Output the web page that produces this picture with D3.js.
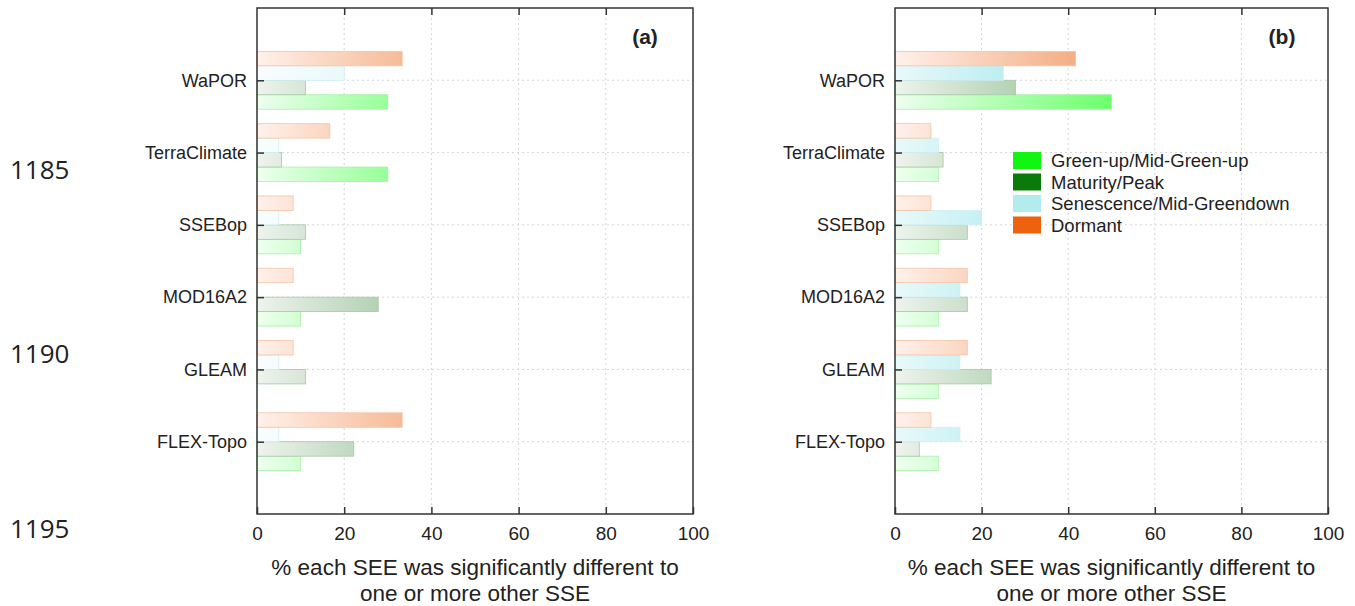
<!DOCTYPE html>
<html>
<head>
<meta charset="utf-8">
<script src="https://cdn.jsdelivr.net/npm/d3@7"></script>
<style>
  html, body { margin: 0; padding: 0; background: #fff; }
  svg { display: block; }
  text { font-family: "Liberation Sans", Arial, sans-serif; fill: #222; }
</style>
</head>
<body>
<svg id="chart" width="1355" height="606"></svg>
<script>
// ---------- data ----------
const categories = ["WaPOR", "TerraClimate", "SSEBop", "MOD16A2", "GLEAM", "FLEX-Topo"];
const seriesNames = ["Green-up/Mid-Green-up", "Maturity/Peak", "Senescence/Mid-Greendown", "Dormant"];
const xTicks = [0, 20, 40, 60, 80, 100];
const xTitle = ["% each SEE was significantly different to", "one or more other SSE"];
const panelLabels = ["(a)", "(b)"];
const lineNumbers = ["1185", "1190", "1195"];

// panel (a)
const aGreenUp    = [30, 30, 10, 10, 0, 10];
const aMaturity   = [11.1, 5.6, 11.1, 27.8, 11.1, 22.2];
const aSenescence = [20, 5, 5, 0, 5, 5];
const aDormant    = [33.3, 16.7, 8.3, 8.3, 8.3, 33.3];
// panel (b)
const bGreenUp    = [50, 10, 10, 10, 10, 10];
const bMaturity   = [27.8, 11.1, 16.7, 16.7, 22.2, 5.6];
const bSenescence = [25, 10, 20, 15, 15, 15];
const bDormant    = [41.7, 8.3, 8.3, 16.7, 16.7, 8.3];

// ---------- styling ----------
const legendColors = ["#11f511", "#0a7a0a", "#b2ecee", "#ee620e"];
const gradA = [["#effff0", "#5cff5c"], ["#eef3ee", "#86b886"], ["#f8fdfe", "#d6f2f5"], ["#fff1ea", "#f1a070"]];
const gradB = [["#effff0", "#6cff6c"], ["#eef3ee", "#86b886"], ["#e9f9fa", "#8fe3ea"], ["#fff1ea", "#f1a070"]];
const strokeCols = ["#a8f0a8", "#a6c8a6", "#cdeff2", "#f4c4a6"];

const svg = d3.select("#chart");
const defs = svg.append("defs");

const plotTop = 8, plotBottom = 514;
const panels = [
  { x0: 257, x1: 693, data: [aGreenUp, aMaturity, aSenescence, aDormant], grad: gradA, label: panelLabels[0], lx: 645, legend: false },
  { x0: 895, x1: 1328, data: [bGreenUp, bMaturity, bSenescence, bDormant], grad: gradB, label: panelLabels[1], lx: 1282, legend: true }
];

const y = d3.scaleLinear().domain([0, 7]).range([plotBottom, plotTop]);
const catPos = categories.map((c, i) => categories.length - i);
const barH = y(0) - y(0.2);

panels.forEach((p, pi) => {
  const x = d3.scaleLinear().domain([0, 100]).range([p.x0, p.x1]);
  const g = svg.append("g");

  p.grad.forEach((gc, si) => {
    const lg = defs.append("linearGradient")
      .attr("id", `g${pi}_${si}`)
      .attr("gradientUnits", "userSpaceOnUse")
      .attr("x1", x(0)).attr("x2", x(50)).attr("y1", 0).attr("y2", 0);
    lg.append("stop").attr("offset", 0).attr("stop-color", gc[0]);
    lg.append("stop").attr("offset", 1).attr("stop-color", gc[1]);
  });

  g.append("g").selectAll("line").data(xTicks.filter(t => t > 0 && t < 100)).join("line")
    .attr("x1", d => x(d)).attr("x2", d => x(d)).attr("y1", plotTop).attr("y2", plotBottom)
    .attr("stroke", "#d6d6d6").attr("stroke-width", 1).attr("stroke-dasharray", "2,3");
  g.append("g").selectAll("line").data(catPos).join("line")
    .attr("x1", x(0)).attr("x2", x(100)).attr("y1", d => y(d)).attr("y2", d => y(d))
    .attr("stroke", "#d6d6d6").attr("stroke-width", 1).attr("stroke-dasharray", "2,3");

  p.data.forEach((vals, si) => {
    const k = 3 - si;
    g.append("g").selectAll("rect").data(vals.map((v, i) => ({ v, pos: catPos[i] }))).join("rect")
      .attr("x", x(0))
      .attr("y", d => y(d.pos + 0.4 - k * 0.2))
      .attr("width", d => Math.max(0, x(d.v) - x(0)))
      .attr("height", barH)
      .attr("fill", `url(#g${pi}_${si})`)
      .attr("stroke", d => d.v > 0 ? strokeCols[si] : "none")
      .attr("stroke-width", 0.8);
  });

  const xAxisB = d3.axisBottom(x).tickValues(xTicks).tickSize(-7).tickSizeOuter(0).tickPadding(13);
  const ax = g.append("g").attr("transform", `translate(0,${plotBottom})`).call(xAxisB);
  ax.select(".domain").remove();
  ax.selectAll(".tick line").attr("stroke", "#333").attr("stroke-width", 1.5);
  ax.selectAll("text").style("font-size", "19px").style("font-family", "Liberation Sans, Arial, sans-serif").attr("fill", "#222");

  const xAxisT = d3.axisTop(x).tickValues(xTicks.filter(t => t > 0 && t < 100)).tickSize(-7).tickSizeOuter(0).tickFormat("");
  const axT = g.append("g").attr("transform", `translate(0,${plotTop})`).call(xAxisT);
  axT.select(".domain").remove();
  axT.selectAll(".tick line").attr("stroke", "#333").attr("stroke-width", 1.5);

  const yAxis = d3.axisLeft(y).tickValues(catPos).tickFormat((d, i) => categories[i]).tickSize(-7).tickSizeOuter(0).tickPadding(10);
  const ay = g.append("g").attr("transform", `translate(${x(0)},0)`).call(yAxis);
  ay.select(".domain").remove();
  ay.selectAll(".tick line").attr("stroke", "#333").attr("stroke-width", 1.5);
  ay.selectAll("text").style("font-size", "18px").style("font-family", "Liberation Sans, Arial, sans-serif").attr("fill", "#222");

  g.append("rect").attr("x", x(0)).attr("y", plotTop).attr("width", x(100) - x(0)).attr("height", plotBottom - plotTop)
    .attr("fill", "none").attr("stroke", "#333").attr("stroke-width", 1.5);

  g.append("text").attr("x", p.lx).attr("y", 44).attr("text-anchor", "middle")
    .style("font-size", "21px").style("font-weight", "bold").attr("fill", "#111").text(p.label);

  g.append("text").attr("text-anchor", "middle").style("font-size", "22.5px")
    .selectAll("tspan").data(xTitle).join("tspan")
    .attr("x", (x(0) + x(100)) / 2).attr("y", (d, i) => 575 + i * 26).text(d => d);

  if (p.legend) {
    const lgG = g.append("g").attr("transform", "translate(1013,152)");
    const items = [0, 1, 2, 3];
    lgG.selectAll("rect").data(items).join("rect")
      .attr("x", 0).attr("y", d => d * 21.5).attr("width", 28).attr("height", 17)
      .attr("fill", d => legendColors[d]);
    lgG.selectAll("text").data(items).join("text")
      .attr("x", 38).attr("y", d => d * 21.5 + 15).style("font-size", "18.5px")
      .text(d => seriesNames[d]);
  }
});

const lnY = [179, 363, 538];
svg.append("g").selectAll("text").data(lineNumbers).join("text")
  .attr("x", 10).attr("y", (d, i) => lnY[i])
  .style("font-family", "'Open Sans', sans-serif").style("font-size", "26px").style("font-weight", "500").attr("fill", "#000")
  .text(d => d);
</script>
</body>
</html>
